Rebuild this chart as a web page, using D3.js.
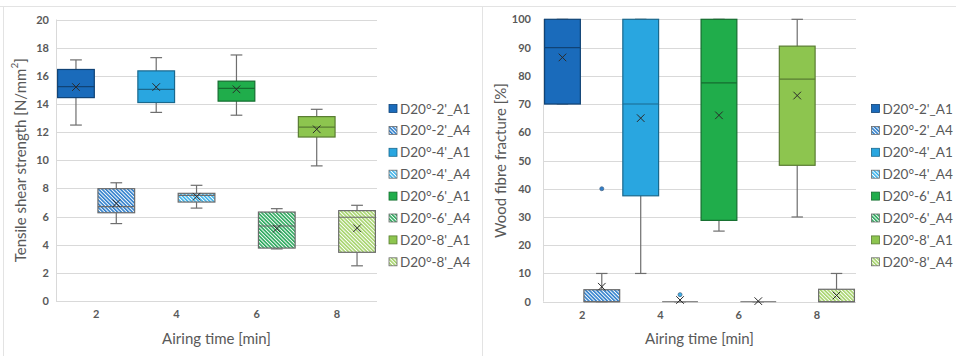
<!DOCTYPE html>
<html>
<head>
<meta charset="utf-8">
<script src="https://cdn.jsdelivr.net/npm/d3@7"></script>
<style>
  html, body { margin: 0; padding: 0; background: #fff; }
  svg { display: block; font-family: Lato, "Open Sans", sans-serif; }
</style>
</head>
<body>
<svg id="chart" width="956" height="356"></svg>
<script>
// Categories and series
const airingTimes = ["2", "4", "6", "8"];
const seriesNames = ["D20°-2'_A1", "D20°-2'_A4", "D20°-4'_A1", "D20°-4'_A4",
                     "D20°-6'_A1", "D20°-6'_A4", "D20°-8'_A1", "D20°-8'_A4"];
const seriesTime = ["2", "2", "4", "4", "6", "6", "8", "8"];
const seriesKind = ["A1", "A4", "A1", "A4", "A1", "A4", "A1", "A4"];
const seriesColors = ["#1a6bbb", "#2f7fcc", "#29a6e0", "#3db3ea",
                      "#20ad4b", "#2aa85c", "#8dc54f", "#a6d46c"];

// Tensile shear strength [N/mm²]
const shearLow    = [12.5, 5.5, 13.4, 6.6, 13.2, 3.7, 9.6, 2.5];
const shearQ1     = [14.45, 6.27, 14.1, 7.03, 14.2, 3.76, 11.65, 3.46];
const shearMedian = [15.23, 6.7, 15.04, 7.5, 15.1, 5.33, 12.35, 5.95];
const shearQ3     = [16.45, 7.98, 16.35, 7.65, 15.62, 6.32, 13.1, 6.42];
const shearHigh   = [17.13, 8.4, 17.29, 8.22, 17.48, 6.56, 13.62, 6.8];
const shearMean   = [15.2, 6.94, 15.2, 7.41, 15.04, 5.14, 12.2, 5.17];
const shearTicks  = [0, 2, 4, 6, 8, 10, 12, 14, 16, 18, 20];

// Wood fibre fracture [%]
const fibreLow      = [70, 0, 10, 0, 25, 0, 30, 0];
const fibreQ1       = [70, 0, 37.5, 0, 28.8, 0, 48.3, 0];
const fibreMedian   = [90, 0, 70, 0, 77.5, 0, 78.8, 0];
const fibreQ3       = [100, 4.25, 100, 0, 100, 0, 90.5, 4.4];
const fibreHigh     = [100, 10, 100, 0, 100, 0, 100, 10];
const fibreMean     = [86.5, 5.3, 65, 0.6, 66, 0.2, 73, 2.2];
const fibreOutliers = [[], [40], [], [2.5], [], [], [], []];
const fibreTicks    = [0, 10, 20, 30, 40, 50, 60, 70, 80, 90, 100];

const svg = d3.select("#chart");
const textColor = "#595959";
const gridColor = "#d9d9d9";

// Fine diagonal hatch patterns for the A4 series
const defs = svg.append("defs");
seriesNames.forEach((name, i) => {
  if (seriesKind[i] !== "A4") return;
  const p = defs.append("pattern")
    .attr("id", "hatch" + i)
    .attr("patternUnits", "userSpaceOnUse")
    .attr("width", 2.6).attr("height", 2.6)
    .attr("patternTransform", "rotate(-45)");
  p.append("rect").attr("width", 2.6).attr("height", 2.6).attr("fill", "#ffffff");
  p.append("rect").attr("width", 1.6).attr("height", 2.6).attr("fill", seriesColors[i]);
});

function fillOf(i) {
  return seriesKind[i] === "A4" ? `url(#hatch${i})` : seriesColors[i];
}
function strokeOf(i) {
  return seriesKind[i] === "A4" ? "#6b6b6b" : d3.color(seriesColors[i]).darker(1.3).formatHex();
}

// Outer frame
svg.append("line").attr("x1", 0).attr("x2", 956).attr("y1", 6.5).attr("y2", 6.5)
  .attr("stroke", "#e3e3e3");
svg.append("line").attr("x1", 3.5).attr("x2", 3.5).attr("y1", 6).attr("y2", 356)
  .attr("stroke", "#e3e3e3");
svg.append("line").attr("x1", 482.5).attr("x2", 482.5).attr("y1", 6).attr("y2", 356)
  .attr("stroke", "#e3e3e3");

function drawPanel(cfg) {
  const g = svg.append("g");
  const x = d3.scaleBand().domain(airingTimes).range([cfg.x0, cfg.x1]);
  const sub = d3.scaleBand().domain(["A1", "A4"]).range([0, x.bandwidth()])
    .paddingInner(0.09).paddingOuter(0.04);
  const y = d3.scaleLinear().domain([0, cfg.max]).range([cfg.y0, cfg.y1]);

  // Gridlines
  g.append("g").selectAll("line").data(cfg.ticks).join("line")
    .attr("x1", cfg.x0).attr("x2", cfg.x1)
    .attr("y1", d => Math.round(y(d)) + 0.5).attr("y2", d => Math.round(y(d)) + 0.5)
    .attr("stroke", gridColor).attr("stroke-width", 1);
  g.append("line")
    .attr("x1", cfg.x0 + 0.5).attr("x2", cfg.x0 + 0.5)
    .attr("y1", y(cfg.max)).attr("y2", y(0))
    .attr("stroke", gridColor);

  // Y axis labels
  const yAxis = d3.axisLeft(y).tickValues(cfg.ticks).tickSize(0).tickPadding(0);
  const ya = g.append("g").attr("transform", `translate(${cfg.yLabelX},0)`).call(yAxis);
  ya.select(".domain").remove();
  ya.selectAll("text").attr("fill", textColor).attr("font-size", 11)
    .attr("font-weight", "bold").attr("font-family", "Lato, sans-serif");

  // X axis labels
  const xAxis = d3.axisBottom(x).tickSize(0).tickPadding(0);
  const xa = g.append("g").attr("transform", `translate(0,${cfg.y0 + 9})`).call(xAxis);
  xa.select(".domain").remove();
  xa.selectAll("text").attr("fill", textColor).attr("font-size", 11)
    .attr("font-weight", "bold").attr("font-family", "Lato, sans-serif");

  // Boxes
  seriesNames.forEach((name, i) => {
    const left = x(seriesTime[i]) + sub(seriesKind[i]);
    const w = sub.bandwidth();
    const cx = left + w / 2;
    const capW = w * 0.32;
    const bg = g.append("g");
    const wc = "#6e6e6e";

    // whiskers
    bg.append("line").attr("x1", cx).attr("x2", cx)
      .attr("y1", y(cfg.low[i])).attr("y2", y(cfg.high[i]))
      .attr("stroke", wc).attr("stroke-width", 1.2);
    [cfg.low[i], cfg.high[i]].forEach(v => {
      bg.append("line").attr("x1", cx - capW / 2).attr("x2", cx + capW / 2)
        .attr("y1", y(v)).attr("y2", y(v))
        .attr("stroke", wc).attr("stroke-width", 1.2);
    });

    // box
    const top = y(cfg.q3[i]), bot = y(cfg.q1[i]);
    if (bot - top > 0.5) {
      bg.append("rect").attr("x", left).attr("y", top)
        .attr("width", w).attr("height", bot - top)
        .attr("fill", fillOf(i)).attr("stroke", strokeOf(i)).attr("stroke-width", 1.2);
    }
    // median
    bg.append("line").attr("x1", left).attr("x2", left + w)
      .attr("y1", y(cfg.median[i])).attr("y2", y(cfg.median[i]))
      .attr("stroke", bot - top > 0.5 ? strokeOf(i) : "#8a8a8a").attr("stroke-width", 1.2);

    // mean marker
    const my = y(cfg.mean[i]), s = 3.8;
    bg.append("path")
      .attr("d", `M${cx - s},${my - s}L${cx + s},${my + s}M${cx - s},${my + s}L${cx + s},${my - s}`)
      .attr("stroke", "#2b2b2b").attr("stroke-width", 1);

    // outliers
    (cfg.outliers ? cfg.outliers[i] : []).forEach(v => {
      bg.append("circle").attr("cx", cx).attr("cy", y(v)).attr("r", 2)
        .attr("fill", seriesColors[i]).attr("stroke", "#4a6a8a").attr("stroke-width", 0.8);
    });
  });

  // Axis titles
  g.append("text")
    .attr("transform", `translate(${cfg.yTitleX},${(cfg.y0 + cfg.y1) / 2}) rotate(-90)`)
    .attr("text-anchor", "middle").attr("dominant-baseline", "central")
    .attr("fill", textColor).attr("font-size", 15)
    .html(cfg.yTitle);
  g.append("text")
    .attr("x", (cfg.x0 + cfg.x1) / 2).attr("y", 344)
    .attr("text-anchor", "middle")
    .attr("fill", textColor).attr("font-size", 15)
    .text("Airing time [min]");

  // Legend
  const lg = g.append("g");
  seriesNames.forEach((name, i) => {
    const cy = cfg.legendY + i * 21.9;
    lg.append("rect").attr("x", cfg.legendX).attr("y", cy - 4)
      .attr("width", 8).attr("height", 8)
      .attr("fill", fillOf(i)).attr("stroke", strokeOf(i)).attr("stroke-width", 0.8);
    lg.append("text").attr("x", cfg.legendX + 11).attr("y", cy)
      .attr("dominant-baseline", "central")
      .attr("fill", textColor).attr("font-size", 13.5)
      .text(name);
  });
}

drawPanel({
  x0: 56, x1: 377, y0: 301, y1: 19.5, max: 20, ticks: shearTicks,
  low: shearLow, q1: shearQ1, median: shearMedian, q3: shearQ3, high: shearHigh, mean: shearMean,
  yLabelX: 49, yTitleX: 20,
  yTitle: 'Tensile shear strength [N/mm<tspan baseline-shift="super" font-size="10">2</tspan>]',
  legendX: 389, legendY: 108.5
});

drawPanel({
  x0: 543, x1: 856, y0: 301.7, y1: 19.3, max: 100, ticks: fibreTicks,
  low: fibreLow, q1: fibreQ1, median: fibreMedian, q3: fibreQ3, high: fibreHigh, mean: fibreMean,
  outliers: fibreOutliers,
  yLabelX: 531, yTitleX: 500,
  yTitle: "Wood fibre fracture [%]",
  legendX: 871.5, legendY: 108.5
});
</script>
</body>
</html>
